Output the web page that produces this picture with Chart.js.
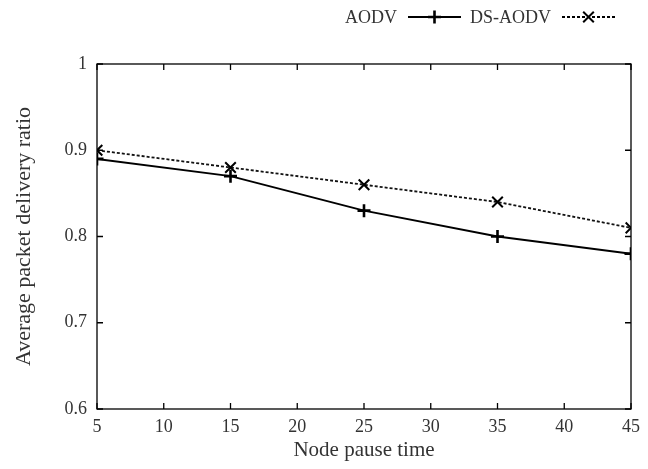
<!DOCTYPE html>
<html><head><meta charset="utf-8">
<script src="https://cdn.jsdelivr.net/npm/chart.js@4/dist/chart.umd.min.js"></script>
<style>html,body{margin:0;padding:0;background:#fff}#wrap{width:648px;height:469px}</style>
</head><body><div id="wrap"><canvas id="c" width="648" height="469"></canvas></div>
<script>
const pauseTimes = [5, 15, 25, 35, 45];
const aodv = [0.89, 0.87, 0.83, 0.80, 0.78];
const dsAodv = [0.90, 0.88, 0.86, 0.84, 0.81];
const seriesNames = ['AODV', 'DS-AODV'];
const xTicks = [5, 10, 15, 20, 25, 30, 35, 40, 45];
const yTicks = [0.6, 0.7, 0.8, 0.9, 1];
const xTitle = 'Node pause time';
const yTitle = 'Average packet delivery ratio';

const serif = "'Liberation Serif', 'Times New Roman', serif";
const textColor = '#333';

const frame = {
  id: 'frame',
  afterDraw(chart) {
    const {ctx, chartArea: a, scales: {x, y}} = chart;
    ctx.save();
    ctx.strokeStyle = '#000';
    ctx.lineWidth = 1.3;
    ctx.strokeRect(a.left, a.top, a.right - a.left, a.bottom - a.top);
    const L = 6;
    ctx.beginPath();
    xTicks.forEach(v => {
      const px = x.getPixelForValue(v);
      ctx.moveTo(px, a.bottom); ctx.lineTo(px, a.bottom - L);
      ctx.moveTo(px, a.top); ctx.lineTo(px, a.top + L);
    });
    yTicks.forEach(v => {
      const py = y.getPixelForValue(v);
      ctx.moveTo(a.left, py); ctx.lineTo(a.left + L, py);
      ctx.moveTo(a.right, py); ctx.lineTo(a.right - L, py);
    });
    ctx.stroke();
    // legend (gnuplot style: text then sample)
    const ly = 17;
    const items = [
      {textRight: 397, lineL: 408, lineR: 461, ds: chart.data.datasets[0]},
      {textRight: 551, lineL: 562, lineR: 615, ds: chart.data.datasets[1]}
    ];
    ctx.font = '18px ' + serif;
    ctx.textAlign = 'right';
    ctx.textBaseline = 'middle';
    items.forEach(it => {
      ctx.fillStyle = textColor;
      ctx.fillText(it.ds.label, it.textRight, ly + 1);
      ctx.strokeStyle = '#000';
      ctx.lineWidth = it.ds.borderWidth;
      ctx.setLineDash(it.ds.borderDash || []);
      ctx.beginPath(); ctx.moveTo(it.lineL, ly); ctx.lineTo(it.lineR, ly); ctx.stroke();
      ctx.setLineDash([]);
      ctx.lineWidth = it.ds.pointBorderWidth;
      Chart.helpers.drawPoint(ctx, {pointStyle: it.ds.pointStyle, radius: it.ds.pointRadius, borderWidth: it.ds.pointBorderWidth}, (it.lineL + it.lineR) / 2, ly);
    });
    ctx.restore();
  }
};

new Chart(document.getElementById('c'), {
  type: 'line',
  data: {
    datasets: [
      {label: seriesNames[0], data: pauseTimes.map((t, i) => ({x: t, y: aodv[i]})),
       borderColor: '#000', backgroundColor: '#000', borderWidth: 2,
       pointStyle: 'cross', pointRadius: 6.5, pointBorderWidth: 2.6, pointBorderColor: '#000'},
      {label: seriesNames[1], data: pauseTimes.map((t, i) => ({x: t, y: dsAodv[i]})),
       borderColor: '#111', backgroundColor: '#000', borderWidth: 1.8, borderDash: [3, 2],
       pointStyle: 'crossRot', pointRadius: 7.5, pointBorderWidth: 2, pointBorderColor: '#000'}
    ]
  },
  options: {
    responsive: false, animation: false,
    layout: {padding: {top: 64, right: 17, left: 0, bottom: 0}},
    plugins: {legend: {display: false}, tooltip: {enabled: false}},
    elements: {line: {tension: 0}},
    scales: {
      x: {type: 'linear', min: 5, max: 45,
          afterBuildTicks: s => { s.ticks = xTicks.map(v => ({value: v})); },
          afterFit: s => { s.height = 60; },
          grid: {display: false, drawTicks: false}, border: {display: false},
          ticks: {padding: 7, color: textColor, font: {family: serif, size: 18}, maxRotation: 0, autoSkip: false},
          title: {display: true, text: xTitle, color: textColor, font: {family: serif, size: 21}, padding: {top: 0, bottom: 6}}},
      y: {type: 'linear', min: 0.6, max: 1,
          afterBuildTicks: s => { s.ticks = yTicks.map(v => ({value: v})); },
          afterFit: s => { s.width = 97; },
          grid: {display: false, drawTicks: false}, border: {display: false},
          ticks: {padding: 10, color: textColor, font: {family: serif, size: 18}, autoSkip: false,
                  callback: v => String(Number(v.toFixed(1)))},
          title: {display: true, text: yTitle, color: textColor, font: {family: serif, size: 22}, padding: {top: 11, bottom: 0}}}
    }
  },
  plugins: [frame]
});
</script></body></html>
